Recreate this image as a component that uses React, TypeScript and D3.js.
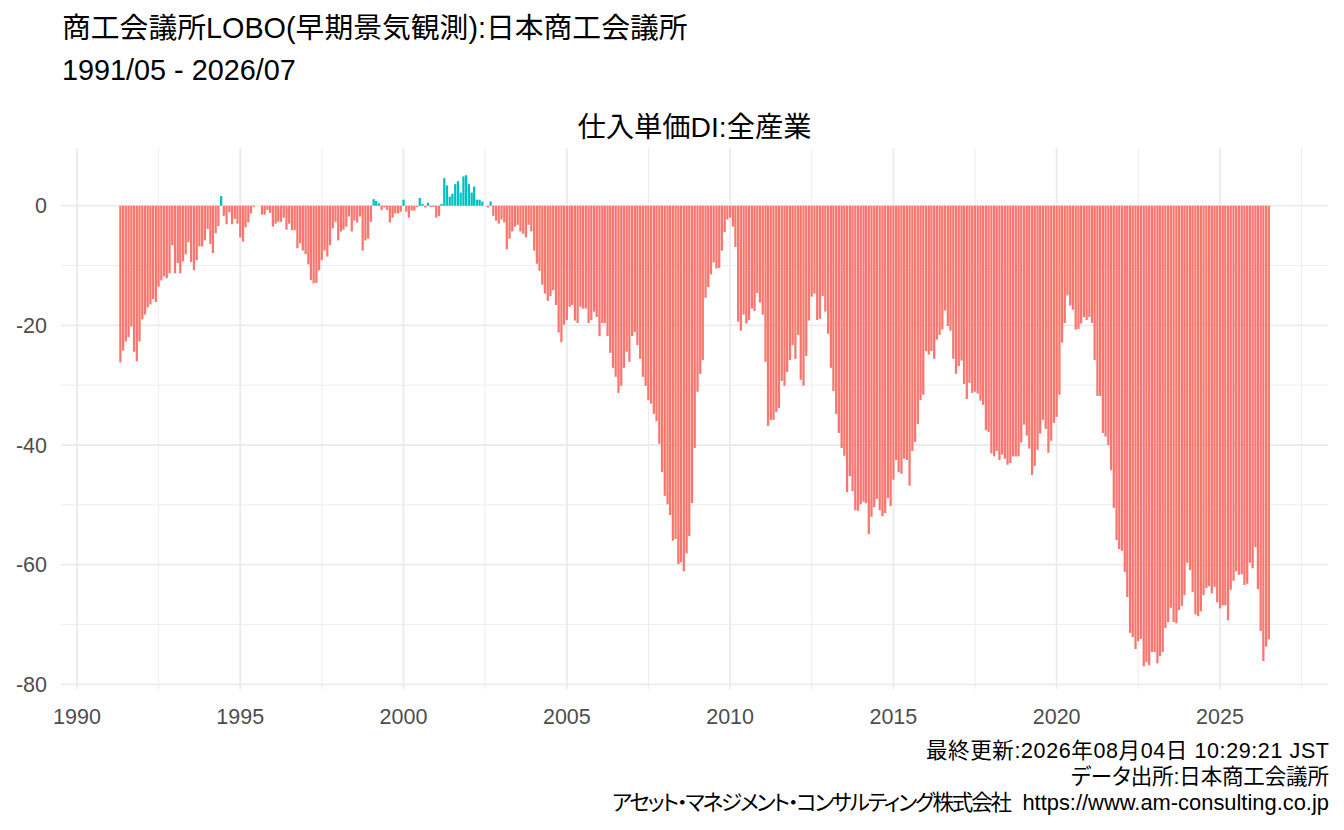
import * as d3 from "d3";

// first month of the series: 1991/05
const startYear = 1991;
const startMonth = 5;

// 仕入単価DI (全産業), monthly, 1991/05 - 2026/07
const di1991 = [-26.2, -24.2, -22.7, -22.0, -20.2, -24.4, -26.0, -22.7];
const di1992 = [-19.0, -18.2, -17.0, -16.5, -15.6, -16.1, -13.5, -12.5, -11.8, -12.1, -11.3, -6.6];
const di1993 = [-11.3, -9.6, -11.3, -9.3, -8.1, -6.1, -9.4, -10.8, -9.1, -6.8, -6.8, -5.8];
const di1994 = [-3.9, -6.4, -7.9, -4.6, -3.4, 1.6, -1.7, -3.1, -1.1, -3.1, -2.2, -3.0];
const di1995 = [-5.3, -6.0, -3.6, -2.8, -1.3, -0.2, 0, 0, -1.5, -1.5, -0.7, -1.2];
const di1996 = [-3.5, -3.0, -2.7, -2.7, -2.0, -4.0, -3.0, -4.1, -4.1, -7.1, -6.3, -7.5];
const di1997 = [-8.1, -9.8, -12.4, -13.0, -12.9, -10.8, -9.1, -7.5, -8.5, -6.6, -3.8, -2.7];
const di1998 = [-5.8, -4.3, -4.0, -3.5, -1.8, -4.3, -2.5, -2.8, -1.8, -7.5, -5.8, -5.5];
const di1999 = [-2.7, 1.1, 0.8, 0.4, -0.7, -0.3, -0.7, -2.8, -2.0, -1.3, -1.3, -1.0];
const di2000 = [1.0, -1.0, -2.0, -0.8, -0.8, -0.2, 1.3, 0.3, -0.3, 0.5, -0.2, -0.2];
const di2001 = [-2.0, -1.7, 0.3, 4.6, 3.4, 1.5, 2.0, 3.6, 4.1, 2.2, 4.9, 5.1];
const di2002 = [3.6, 2.2, 3.2, 1.0, 1.0, 0.7, 0, -0.3, 0.7, -1.7, -2.5, -3.0];
const di2003 = [-2.3, -2.8, -7.3, -5.5, -4.3, -3.5, -3.2, -4.3, -4.7, -5.3, -3.2, -4.3];
const di2004 = [-7.5, -9.7, -10.9, -13.2, -14.7, -15.9, -15.1, -14.1, -16.6, -21.2, -22.8, -19.9];
const di2005 = [-19.1, -16.9, -16.6, -19.2, -19.6, -16.9, -17.2, -17.2, -19.6, -19.1, -17.7, -18.6];
const di2006 = [-21.8, -19.6, -19.6, -21.8, -24.6, -27.1, -28.6, -31.3, -30.1, -27.1, -24.4, -26.1];
const di2007 = [-21.8, -21.1, -23.3, -25.6, -28.6, -30.1, -32.5, -33.1, -34.8, -36.0, -39.8, -44.5];
const di2008 = [-48.5, -49.9, -51.7, -56.0, -55.7, -59.9, -59.6, -61.1, -58.1, -55.2, -49.7, -40.5];
const di2009 = [-31.1, -28.1, -25.8, -15.4, -13.6, -11.5, -9.5, -10.5, -10.4, -7.5, -4.4, -2.3];
const di2010 = [-2.0, -3.5, -6.9, -19.4, -20.9, -18.2, -19.7, -19.1, -17.2, -17.6, -14.6, -16.2];
const di2011 = [-18.2, -26.1, -36.8, -35.8, -35.8, -34.5, -33.8, -29.3, -30.1, -27.8, -25.8, -23.3];
const di2012 = [-25.6, -21.6, -29.1, -30.1, -25.1, -19.2, -15.2, -14.7, -19.1, -18.9, -15.1, -17.7];
const di2013 = [-21.4, -27.1, -31.0, -34.8, -38.0, -40.5, -41.8, -47.9, -45.2, -47.7, -50.9, -51.0];
const di2014 = [-49.9, -49.5, -49.7, -54.9, -52.0, -50.4, -49.0, -50.9, -51.9, -51.4, -48.9, -50.2];
const di2015 = [-45.8, -42.5, -44.5, -44.8, -42.3, -42.5, -46.8, -41.0, -39.5, -36.5, -32.5, -31.6];
const di2016 = [-24.3, -24.9, -24.3, -25.6, -22.4, -21.6, -20.7, -17.5, -20.1, -20.9, -25.6, -28.1];
const di2017 = [-26.8, -25.9, -29.8, -32.3, -29.6, -31.3, -31.1, -31.4, -32.6, -33.3, -37.5, -37.8];
const di2018 = [-41.4, -41.9, -41.0, -42.5, -41.6, -42.3, -43.3, -43.0, -41.9, -41.9, -41.9, -39.6];
const di2019 = [-36.6, -38.4, -40.6, -45.0, -43.5, -40.8, -38.1, -35.8, -37.3, -41.3, -39.3, -36.3];
const di2020 = [-35.3, -31.6, -22.9, -19.6, -15.0, -16.7, -17.4, -20.7, -20.6, -19.7, -18.6, -19.1];
const di2021 = [-18.6, -19.6, -25.8, -31.8, -31.8, -38.0, -38.6, -40.0, -44.2, -50.5, -55.9, -57.4];
const di2022 = [-57.7, -61.2, -65.4, -71.4, -72.1, -74.1, -72.8, -72.4, -77.0, -76.3, -76.8, -74.6];
const di2023 = [-74.6, -76.5, -75.3, -74.6, -70.6, -69.6, -67.2, -69.6, -69.8, -67.6, -66.9, -65.1];
const di2024 = [-59.7, -60.9, -64.6, -68.3, -68.6, -67.8, -65.1, -63.9, -63.6, -64.8, -63.7, -66.3];
const di2025 = [-67.3, -66.8, -66.8, -69.3, -64.2, -62.7, -61.1, -61.7, -61.6, -63.4, -63.2, -59.7];
const di2026 = [-60.6, -57.1, -64.1, -71.1, -76.1, -73.7, -72.5];

const diValues = [
  ...di1991, ...di1992, ...di1993, ...di1994, ...di1995, ...di1996,
  ...di1997, ...di1998, ...di1999, ...di2000, ...di2001, ...di2002,
  ...di2003, ...di2004, ...di2005, ...di2006, ...di2007, ...di2008,
  ...di2009, ...di2010, ...di2011, ...di2012, ...di2013, ...di2014,
  ...di2015, ...di2016, ...di2017, ...di2018, ...di2019, ...di2020,
  ...di2021, ...di2022, ...di2023, ...di2024, ...di2025, ...di2026,
];

const xTickYears = [1990, 1995, 2000, 2005, 2010, 2015, 2020, 2025];
const xMinorYears = [1992.5, 1997.5, 2002.5, 2007.5, 2012.5, 2017.5, 2022.5, 2027.5];
const yTicks = [0, -20, -40, -60, -80];
const yMinorTicks = [-10, -30, -50, -70];

const titleLines = ["商工会議所LOBO(早期景気観測):日本商工会議所", "1991/05 - 2026/07"];
const plotTitle = "仕入単価DI:全産業";
const captionUpdated = "最終更新:2026年08月04日 10:29:21 JST";
const captionSource = "データ出所:日本商工会議所";
const captionCompany = "アセット・マネジメント・コンサルティング株式会社";
const captionUrl = "https://www.am-consulting.co.jp";

const W = 1344;
const H = 830;
const panel = { left: 61, right: 1328, top: 148, bottom: 689 };
const font = "'Liberation Sans', Arial, 'Noto Sans CJK JP', sans-serif";

const yearDate = (y: number) => {
  const yr = Math.floor(y);
  const frac = y - yr;
  const a = new Date(yr, 0, 1).getTime();
  const b = new Date(yr + 1, 0, 1).getTime();
  return new Date(a + (b - a) * frac);
};

const data = diValues.map((v, i) => ({
  date: new Date(startYear, startMonth - 1 + i, 1),
  value: v,
}));

const App = () => {
  const x = d3
    .scaleTime()
    .domain([new Date(1990, 0, 1), new Date(2025, 0, 1)])
    .range([77, 1220]);
  const y = d3.scaleLinear().domain([-80, 0]).range([684.3, 205.7]);

  // ggplot-style bar width: 0.9 x 28 days
  const halfDays = (0.9 * 28) / 2;
  const dayMs = 24 * 3600 * 1000;

  return (
    <svg
      width={W}
      height={H}
      style={{ position: "absolute", left: 0, top: 0, background: "#fff" }}
      fontFamily={font}
    >
      {/* titles */}
      {titleLines.map((t, i) => (
        <text key={i} x={62} y={38 + i * 42} fontSize={28.8} fill="#000">
          {t}
        </text>
      ))}
      <text
        x={(panel.left + panel.right) / 2}
        y={137}
        fontSize={28.3}
        textAnchor="middle"
        fill="#000"
      >
        {plotTitle}
      </text>

      {/* minor gridlines */}
      {yMinorTicks.map((v) => (
        <line
          key={"ym" + v}
          x1={panel.left}
          x2={panel.right}
          y1={y(v)}
          y2={y(v)}
          stroke="#EBEBEB"
          strokeWidth={0.9}
        />
      ))}
      {xMinorYears.map((yr) => (
        <line
          key={"xm" + yr}
          x1={x(yearDate(yr))}
          x2={x(yearDate(yr))}
          y1={panel.top}
          y2={panel.bottom}
          stroke="#EBEBEB"
          strokeWidth={0.9}
        />
      ))}

      {/* major gridlines */}
      {yTicks.map((v) => (
        <line
          key={"y" + v}
          x1={panel.left}
          x2={panel.right}
          y1={y(v)}
          y2={y(v)}
          stroke="#EBEBEB"
          strokeWidth={1.8}
        />
      ))}
      {xTickYears.map((yr) => (
        <line
          key={"x" + yr}
          x1={x(new Date(yr, 0, 1))}
          x2={x(new Date(yr, 0, 1))}
          y1={panel.top}
          y2={panel.bottom}
          stroke="#EBEBEB"
          strokeWidth={1.8}
        />
      ))}

      {/* bars */}
      {data.map((d, i) => {
        const x0 = x(new Date(d.date.getTime() - halfDays * dayMs));
        const x1 = x(new Date(d.date.getTime() + halfDays * dayMs));
        const yv = y(d.value);
        const y0 = y(0);
        return (
          <rect
            key={i}
            x={x0}
            width={x1 - x0}
            y={Math.min(yv, y0)}
            height={Math.abs(yv - y0)}
            fill={d.value > 0 ? "#00BFC4" : "#F8766D"}
          />
        );
      })}

      {/* axis labels */}
      {yTicks.map((v) => (
        <text
          key={"yl" + v}
          x={47}
          y={y(v)}
          dy="0.36em"
          fontSize={21.5}
          textAnchor="end"
          fill="#4D4D4D"
        >
          {v}
        </text>
      ))}
      {xTickYears.map((yr) => (
        <text
          key={"xl" + yr}
          x={x(new Date(yr, 0, 1))}
          y={724}
          fontSize={21.5}
          textAnchor="middle"
          fill="#4D4D4D"
        >
          {yr}
        </text>
      ))}

      {/* caption */}
      <text x={926} y={758} fontSize={21.5} textLength={403} lengthAdjust="spacing" fill="#000">
        {captionUpdated}
      </text>
      <text
        x={1071}
        y={784}
        fontSize={21.5}
        textLength={258}
        lengthAdjust="spacing"
        style={{ fontFeatureSettings: "'palt'" }}
        fill="#000"
      >
        {captionSource}
      </text>
      <text
        x={612}
        y={810}
        fontSize={21.5}
        textLength={400}
        lengthAdjust="spacing"
        style={{ fontFeatureSettings: "'palt'" }}
        fill="#000"
      >
        {captionCompany}
      </text>
      <text x={1329} y={810} fontSize={21.9} textAnchor="end" fill="#000">
        {captionUrl}
      </text>
    </svg>
  );
};

export default App;
